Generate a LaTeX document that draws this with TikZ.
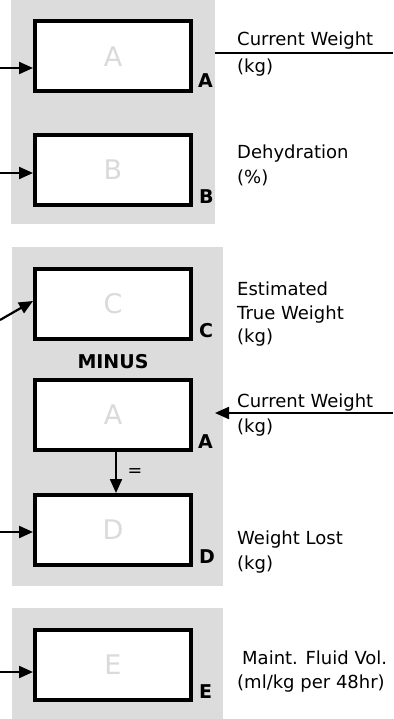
\documentclass[tikz,border=0pt]{standalone}
\usepackage{fontspec}
\setmainfont{DejaVu Sans}
\usetikzlibrary{arrows.meta}
\definecolor{panel}{HTML}{DCDCDC}
\definecolor{ghost}{HTML}{DADADA}
\begin{document}
\begin{tikzpicture}[x=1pt,y=-1pt,
  box/.style={draw=black, line width=4pt, fill=white, minimum width=156pt,
    minimum height=70pt, inner sep=0pt, text=ghost, font=\fontsize{27}{30}\selectfont},
  corner/.style={anchor=base west, inner sep=0pt, font=\fontsize{19}{22}\selectfont\bfseries},
  desc/.style={anchor=base west, inner sep=0pt, font=\fontsize{18}{21}\selectfont},
  conn/.style={line width=2.2pt, -{Triangle[length=14pt,width=12pt]}},
  plainline/.style={line width=2.2pt}]
\useasboundingbox (0,0) rectangle (393,719);
% panels
\fill[panel] (11,0) rectangle (215,224);
\fill[panel] (12,247) rectangle (223,586);
\fill[panel] (12,608) rectangle (223,719);
% boxes
\node[box] (A1) at (113,56.5) {A};
\node[box] (B)  at (113,170) {B};
\node[box] (C)  at (113,304) {C};
\node[box] (A2) at (113,415) {A};
\node[box] (D)  at (113,530) {D};
\node[box] (E)  at (113,664.5) {E};
% corner labels
\node[corner] (lA1) at (198,88) {A};
\node[corner] (lB)  at (199,204) {B};
\node[corner] (lC)  at (199,337) {C};
\node[corner] (lA2) at (198,448) {A};
\node[corner] (lD)  at (199,563) {D};
\node[corner] (lE)  at (199,698) {E};
% minus and equals
\node[anchor=base, inner sep=0pt, font=\fontsize{19}{22}\selectfont\bfseries] (minus) at (113,368) {MINUS};
\node[anchor=center, inner sep=0pt, font=\fontsize{17.5}{20}\selectfont] (eq) at (135,473) {=};
% descriptions
\node[desc] (t1a) at (237,46) {Current Weight};
\node[desc] (t1b) at (237,73) {(kg)};
\node[desc] (t2a) at (237,159) {Dehydration};
\node[desc] (t2b) at (237,184) {(\%)};
\node[desc] (t3a) at (237,295) {Estimated};
\node[desc] (t3b) at (237,319) {True Weight};
\node[desc] (t3c) at (237,342) {(kg)};
\node[desc] (t4a) at (237,407) {Current Weight};
\node[desc] (t4b) at (237,432) {(kg)};
\node[desc] (t5a) at (237,544) {Weight Lost};
\node[desc] (t5b) at (237,569) {(kg)};
\node[desc] (t6a) at (242,664) {Maint. Fluid Vol.};
\node[desc] (t6b) at (237,688) {(ml/kg per 48hr)};
% connectors
\coordinate (inA) at (0,68);
\coordinate (inB) at (0,173);
\coordinate (inC) at (0,320);
\coordinate (tipC) at (33,301);
\coordinate (inD) at (0,532);
\coordinate (inE) at (0,672);
\draw[conn] (inA) -- (inA -| A1.west);
\draw[conn] (inB) -- (inB -| B.west);
\draw[conn] (inC) -- (tipC);
\draw[conn] (inD) -- (inD -| D.west);
\draw[conn] (inE) -- (inE -| E.west);
\coordinate (outA1s) at (215,53);
\coordinate (outA1e) at (393,53);
\draw[plainline] (outA1s) -- (outA1e);
\coordinate (inA2s) at (393,413);
\coordinate (inA2e) at (215,413);
\draw[conn] (inA2s) -- (inA2e);
\coordinate (dx) at (116,0);
\draw[conn] (A2.south -| dx) -- (D.north -| dx);
\end{tikzpicture}
\end{document}
